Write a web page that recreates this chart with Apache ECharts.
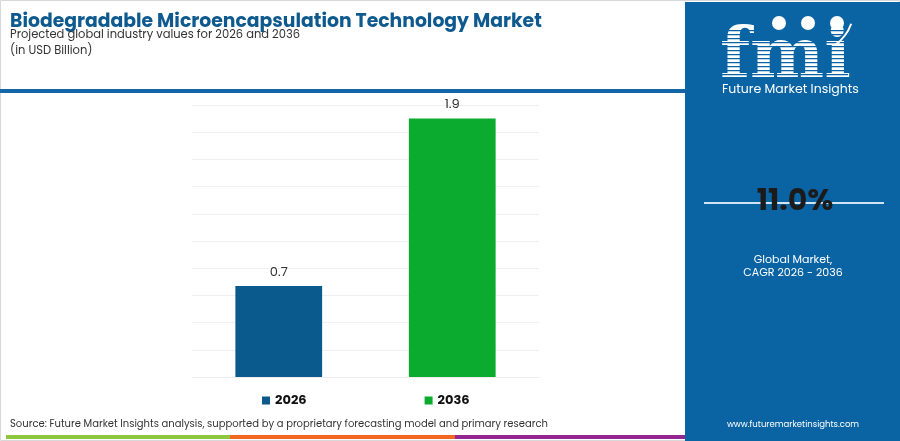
<!DOCTYPE html>
<html><head><meta charset="utf-8">
<script src="https://cdn.jsdelivr.net/npm/echarts@6/dist/echarts.min.js"></script>
<style>html,body{margin:0;padding:0;background:#fff}#c{width:900px;height:441px}</style>
</head><body><div id="c"></div>
<script>
var categories = ['2026', '2036'];
var values = [0.67, 1.9];
var colors = ['#0b5a8e', '#0aab2e'];
var yTicks = [0, 0.2, 0.4, 0.6, 0.8, 1.0, 1.2, 1.4, 1.6, 1.8, 2.0];
var cagrText = '11.0%';

var FONT = 'Poppins, Inter, "Noto Sans", sans-serif';
var chart = echarts.init(document.getElementById('c'));

var series = categories.map(function (c, i) {
  return {
    name: c, type: 'bar', barWidth: '50%', barGap: '-100%',
    data: categories.map(function (_, j) { return j === i ? values[j] : '-'; }),
    itemStyle: { color: colors[i] },
    label: { show: true, position: 'top', distance: 7, color: '#333', fontSize: 13, fontFamily: FONT,
      formatter: function (p) { return p.value.toFixed(1); } }
  };
});

var graphics = [
  { type: 'rect', shape: { x: 0.5, y: 0.5, width: 899, height: 440 }, style: { fill: 'none', stroke: '#d8d8d8', lineWidth: 1 }, z: 0 },
  { type: 'rect', shape: { x: 0, y: 89, width: 686, height: 4 }, style: { fill: '#1466a6' } },
  { type: 'rect', shape: { x: 685, y: 2, width: 215, height: 439 }, style: { fill: '#0a64a4' } },
  // logo
  { type: 'text', x: 720, y: 94, style: { text: 'fmi', fill: '#fff', font: 'bold 70px "DejaVu Serif", serif', verticalAlign: 'bottom' } },
  { type: 'circle', shape: { cx: 779, cy: 23, r: 7 }, style: { fill: '#fff' }, z: 6 },
  { type: 'circle', shape: { cx: 808, cy: 23, r: 7 }, style: { fill: '#fff' }, z: 6 },
  { type: 'circle', shape: { cx: 837, cy: 23, r: 7 }, style: { fill: '#fff' }, z: 6 },
  { type: 'arc', shape: { cx: 808, cy: 8, r: 46, startAngle: 0.35, endAngle: 0.95 }, style: { stroke: '#fff', lineWidth: 2, fill: 'none' }, z: 6 },
  { type: 'text', left: 722, top: 83, style: { text: 'Future Market Insights', fill: '#fff', font: '12.5px ' + FONT } },
  { type: 'line', shape: { x1: 704, y1: 203, x2: 884, y2: 203 }, style: { stroke: '#cfe3f3', lineWidth: 2 } },
  { type: 'text', x: 795, y: 202, style: { text: cagrText, fill: '#1b1b1b', font: 'bold 30px ' + FONT, align: 'center', verticalAlign: 'middle' }, z: 10 },
  { type: 'text', x: 793, y: 260, style: { text: 'Global Market,', fill: '#fff', font: '11px ' + FONT, align: 'center', verticalAlign: 'middle' } },
  { type: 'text', x: 793, y: 273, style: { text: 'CAGR 2026 - 2036', fill: '#fff', font: '11px ' + FONT, align: 'center', verticalAlign: 'middle' } },
  { type: 'text', x: 793, y: 425, style: { text: 'www.futuremarketinsights.com', fill: '#fff', font: '8.5px ' + FONT, align: 'center', verticalAlign: 'middle' } },
  // header texts
  { type: 'text', left: 10, top: 13, style: { text: 'Biodegradable Microencapsulation Technology Market', fill: '#0e5a8f', font: 'bold 18.8px ' + FONT } },
  { type: 'text', left: 10, top: 29, style: { text: 'Projected global industry values for 2026 and 2036', fill: '#333', font: '11.5px ' + FONT } },
  { type: 'text', left: 10, top: 45, style: { text: '(in USD Billion)', fill: '#333', font: '11.5px ' + FONT } },
  // source
  { type: 'text', left: 10, top: 419, style: { text: 'Source: Future Market Insights analysis, supported by a proprietary forecasting model and primary research', fill: '#333', font: '10px ' + FONT } },
  { type: 'rect', shape: { x: 6, y: 435, width: 224, height: 4 }, style: { fill: '#8dc63f' } },
  { type: 'rect', shape: { x: 230, y: 435, width: 225, height: 4 }, style: { fill: '#f26522' } },
  { type: 'rect', shape: { x: 455, y: 435, width: 230, height: 4 }, style: { fill: '#93278f' } }
];
// stripes over logo letters
for (var yy = 30; yy < 77; yy += 4) {
  graphics.push({ type: 'rect', shape: { x: 718, y: yy, width: 130, height: 1.2 }, style: { fill: '#0a64a4' }, z: 5 });
}

chart.setOption({
  animation: false,
  grid: { left: 192, right: 361, top: 105, bottom: 64 },
  xAxis: { type: 'category', data: categories, axisLabel: { show: false }, axisTick: { show: false },
    axisLine: { lineStyle: { color: '#eeeeee' } } },
  yAxis: { type: 'value', min: yTicks[0], max: yTicks[yTicks.length - 1], interval: 0.2,
    axisLabel: { show: false }, axisLine: { show: false }, axisTick: { show: false },
    splitLine: { lineStyle: { color: '#f0f0f0' } } },
  legend: { data: categories, left: 257, top: 389, itemWidth: 8, itemHeight: 8, icon: 'rect', itemGap: 118,
    textStyle: { color: '#111', fontWeight: 'bold', fontSize: 13, fontFamily: FONT } },
  graphic: graphics,
  series: series
});
</script></body></html>
